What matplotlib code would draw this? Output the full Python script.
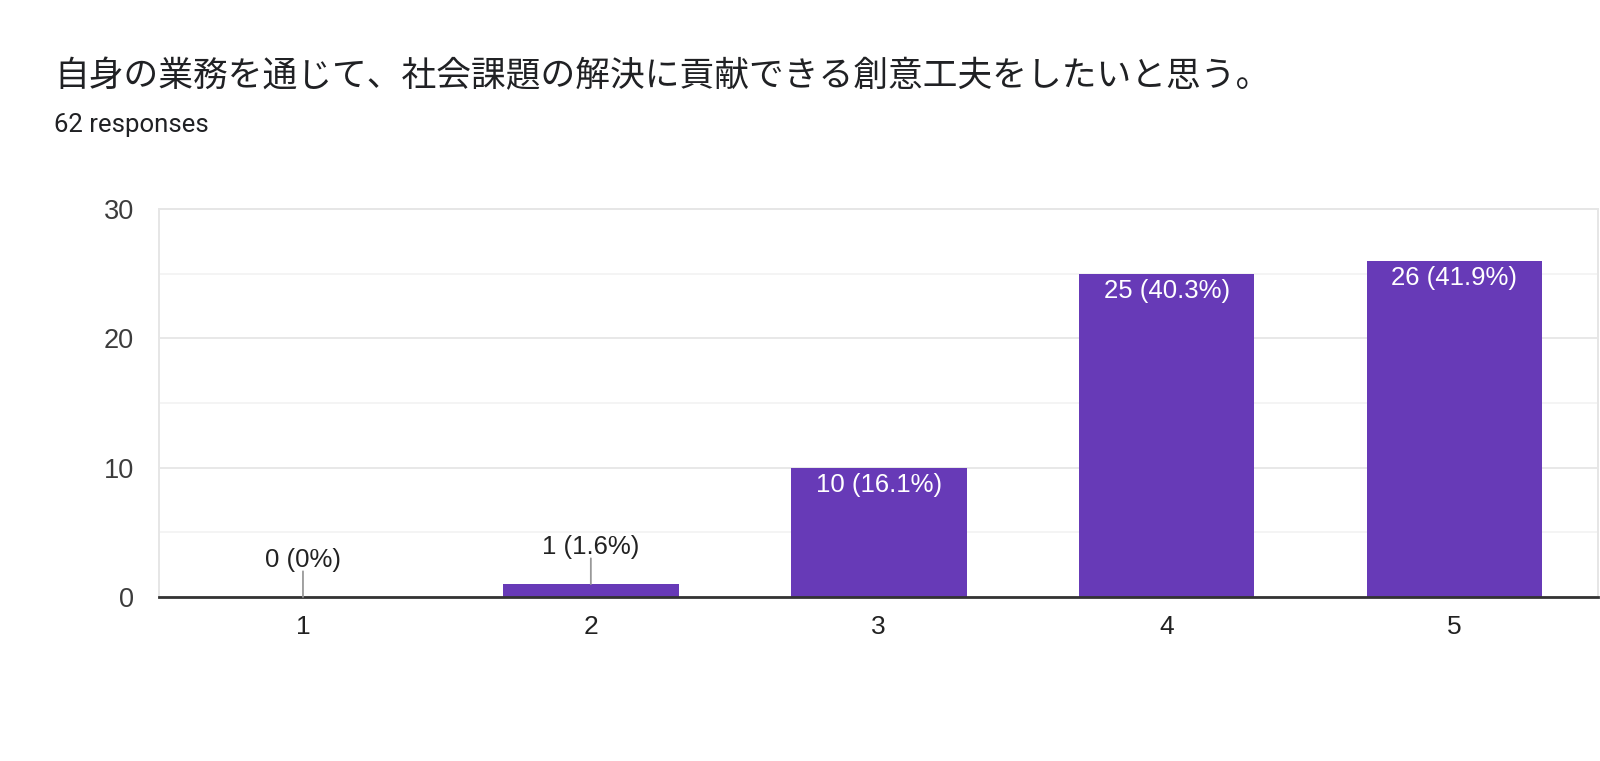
import matplotlib
matplotlib.use('Agg')
import matplotlib.pyplot as plt
import numpy as np

# данные опроса
categories = ['1', '2', '3', '4', '5']
counts = [0, 1, 10, 25, 26]
total = 62
labels = ['0 (0%)', '1 (1.6%)', '10 (16.1%)', '25 (40.3%)', '26 (41.9%)']

title = '自身の業務を通じて、社会課題の解決に貢献できる創意工夫をしたいと思う。'
subtitle = '62 responses'

bar_color = '#673ab7'

fig = plt.figure(figsize=(16, 7.61), dpi=100)
ax = fig.add_axes([0.0994, 0.2155, 0.8996, 0.5099])

x = np.arange(1, len(categories) + 1)
ax.bar(x, counts, width=0.61, color=bar_color, zorder=3)

ax.set_xlim(0.5, 5.5)
ax.set_ylim(0, 30)
ax.set_yticks([0, 10, 20, 30])
ax.set_yticks([5, 15, 25], minor=True)
ax.set_xticks(x)
ax.set_xticklabels(categories)

ax.grid(axis='y', which='major', color='#e8e8e8', linewidth=1.4, zorder=0)
ax.grid(axis='y', which='minor', color='#f4f4f4', linewidth=1.4, zorder=0)
ax.tick_params(axis='both', which='both', length=0)
ax.tick_params(axis='y', pad=18, labelsize=19.5, labelcolor='#3c3c3c')
ax.tick_params(axis='x', pad=13, labelsize=19, labelcolor='#222222')
for lab in ax.get_xticklabels() + ax.get_yticklabels():
    lab.set_family('Liberation Sans')

for side in ['left', 'top', 'right']:
    ax.spines[side].set_color('#e6e6e6')
    ax.spines[side].set_linewidth(1.4)
ax.spines['bottom'].set_color('#333333')
ax.spines['bottom'].set_linewidth(2)
ax.spines['bottom'].set_zorder(4)

# подписи значений: внутри столбца или над ним с выноской
for xi, c, lab in zip(x, counts, labels):
    if c >= 5:
        ax.annotate(lab, xy=(xi, c), xytext=(0, -12.5), textcoords='offset points',
                    ha='center', va='center', color='white', fontsize=18.5,
                    family='Liberation Sans', zorder=5)
    else:
        ax.annotate('', xy=(xi, c), xytext=(0, 18.5), textcoords='offset points',
                    arrowprops=dict(arrowstyle='-', color='#999999', lw=1.3,
                                    shrinkA=0, shrinkB=0), zorder=5)
        ax.annotate(lab, xy=(xi, c), xytext=(0, 21.5), textcoords='offset points',
                    ha='center', va='baseline', color='#222222', fontsize=18.5,
                    family='Liberation Sans', zorder=5)

fig.text(0.034, 1 - 77 / 761, title, fontsize=25, color='#202124',
         family=['Noto Sans CJK JP', 'DejaVu Sans'], va='center', ha='left')
fig.text(0.034, 1 - 132 / 761, subtitle, fontsize=18.5, color='#202124',
         family='Roboto', va='baseline', ha='left')

fig.savefig('out.png', dpi=100, facecolor='white')
